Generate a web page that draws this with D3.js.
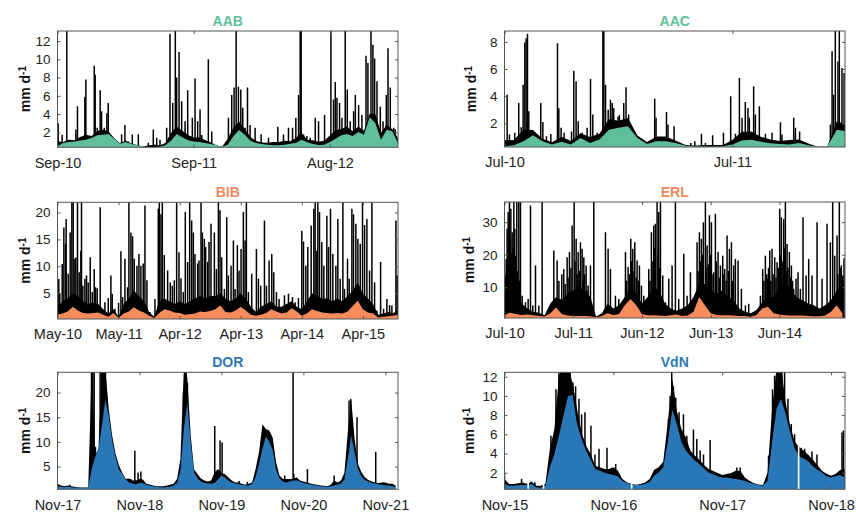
<!DOCTYPE html>
<html><head><meta charset="utf-8">
<script src="https://cdn.jsdelivr.net/npm/d3@7"></script>
<style>body{margin:0;background:#fff}svg{display:block;font-family:"Liberation Sans",Arial,sans-serif}</style>
</head><body><svg id="c" width="856" height="513"></svg>
<script>
// ---- colours ----
const GREEN = "#5fbf9b", ORANGE = "#f68b5c", BLUE = "#2977b6";
const GREEN_T = "#5cc09c", ORANGE_T = "#f0885c", BLUE_T = "#2f7ab5";

// ---- AAB (months since Sep-10, half-month samples) ----
const aabXTicks = [0, 12, 24];
const aabXLabels = ["Sep-10", "Sep-11", "Aug-12"];
const aabYTicks = [2, 4, 6, 8, 10, 12];
const aabFlow = [0.47,0.83,0.94,1.0,1.1,1.2,1.38,1.67,1.74,1.82,1.27,0.76,0.94,0.72,0.58,0.47,0.4,0.4,0.43,0.58,1.09,1.82,1.45,1.12,1.0,0.94,0.83,0.72,0.58,0.43,0.65,1.56,2.26,1.74,1.09,0.83,0.72,0.65,0.58,0.58,0.65,0.76,0.83,1.2,0.9,0.72,0.61,0.65,0.94,1.31,1.67,1.82,1.6,2.04,1.74,3.64,3.02,1.2,2.29,2.11,0.83];
const aabRain = [1.02,0.93,1.2,1.12,1.48,1.74,1.6,2.15,2.29,2.1,1.34,0.8,1.1,0.79,0.62,0.47,0.55,0.66,0.56,0.83,1.92,2.65,2.18,1.71,1.44,1.42,1.16,0.89,0.58,0.43,1.3,2.54,3.15,2.4,1.48,1.05,0.89,0.86,0.95,0.95,1.09,1.02,1.38,1.96,1.19,1.12,0.96,1.09,1.64,2.23,2.37,2.65,2.12,2.63,2.18,4.04,4.0,1.96,2.84,2.33,1.38];
const aabSpikes = [[0.06,3.0],[0.41,1.74],[0.82,13.5],[1.09,1.2],[1.62,2.3],[1.76,4.85],[1.97,1.4],[2.41,5.9],[2.5,7.8],[3.06,1.4],[3.24,9.3],[3.32,8.3],[3.5,2.5],[3.76,6.6],[3.88,4.3],[4.12,2.5],[4.35,4.1],[4.47,5.2],[4.62,1.7],[5.65,1.8],[5.94,2.8],[6.24,1.0],[6.59,1.75],[7.12,1.8],[8.0,0.85],[8.44,2.3],[8.74,1.4],[9.03,1.2],[9.62,2.5],[9.91,12.8],[10.15,5.2],[10.38,13.5],[10.5,8.0],[10.71,10.8],[10.94,5.4],[11.24,3.2],[11.47,6.6],[11.88,3.6],[12.12,7.9],[12.35,3.2],[12.56,4.5],[12.71,1.7],[13.29,10.0],[13.59,2.1],[15.06,3.6],[15.35,6.1],[15.56,6.9],[15.74,13.5],[15.94,7.0],[16.15,6.7],[16.32,4.7],[16.53,2.5],[16.74,6.9],[16.97,2.8],[17.41,2.5],[17.94,1.8],[18.59,1.4],[19.41,2.6],[19.91,1.75],[20.35,2.5],[20.71,2.5],[21.0,3.6],[21.24,6.1],[21.38,13.5],[21.47,13.5],[21.68,1.75],[21.97,1.6],[22.26,1.4],[22.71,3.6],[23.0,3.2],[23.53,3.9],[24.09,13.5],[24.32,5.6],[24.47,7.5],[24.62,5.8],[24.85,5.2],[25.06,3.6],[25.35,13.5],[25.53,6.7],[25.79,3.2],[26.09,4.3],[26.24,6.1],[26.53,5.0],[26.82,3.9],[27.18,10.4],[27.35,9.6],[27.62,13.5],[27.79,11.6],[27.94,10.1],[28.15,7.6],[28.44,4.8],[28.68,3.2],[28.97,6.1],[29.12,11.2],[29.32,6.9],[29.62,2.5],[29.76,2.3]];

// ---- AAC (months since Jul-10) ----
const aacXTicks = [0, 12];
const aacXLabels = ["Jul-10", "Jul-11"];
const aacYTicks = [2, 4, 6, 8];
const aacFlow = [0.31,0.38,0.68,1.12,0.68,0.43,0.63,0.43,0.92,0.55,0.8,1.53,1.66,1.78,0.92,0.48,0.68,0.68,0.55,0.36,0.28,0.28,0.28,0.31,0.43,0.73,0.78,0.63,0.53,0.48,0.43,0.55,0.38,0.26,0.28,1.53,1.41];
const aacRain = [0.74,0.76,1.53,1.5,0.85,0.6,1.01,0.69,1.26,0.98,1.23,2.31,2.18,2.38,1.1,0.62,1.02,1.02,0.72,0.41,0.35,0.39,0.39,0.39,0.77,1.38,1.4,1.01,0.8,0.7,0.77,0.81,0.5,0.26,0.28,2.14,1.93];
const aacSpikes = [[0.14,4.1],[0.26,1.17],[0.54,1.3],[0.75,3.5],[0.88,1.7],[0.98,4.84],[1.07,7.96],[1.14,8.27],[1.21,8.6],[1.28,2.88],[1.46,1.4],[1.63,1.17],[1.91,3.5],[2.02,2.1],[2.21,1.04],[2.44,1.2],[2.79,7.9],[2.86,3.1],[2.98,1.66],[3.14,1.3],[3.53,1.4],[3.65,5.87],[3.77,5.09],[3.88,2.15],[4.09,1.3],[4.35,1.66],[4.53,5.26],[4.65,2.64],[4.88,1.3],[5.18,9.5],[5.23,9.5],[5.32,4.84],[5.46,3.0],[5.58,3.74],[5.67,3.5],[5.75,3.13],[5.98,2.5],[6.05,2.6],[6.19,2.15],[6.28,3.5],[6.4,4.65],[6.54,2.64],[7.91,3.8],[7.98,2.4],[8.53,2.83],[8.61,1.9],[8.93,1.78],[9.81,0.55],[10.02,0.68],[10.37,1.22],[10.58,0.55],[10.96,1.12],[11.53,1.3],[11.91,3.99],[12.16,1.22],[12.37,5.33],[12.51,2.4],[12.68,3.57],[12.82,3.13],[12.89,2.4],[13.12,4.72],[13.21,2.64],[13.42,3.25],[13.74,1.22],[14.09,1.3],[14.53,2.07],[14.61,1.17],[15.23,2.4],[15.32,1.66],[15.54,1.4],[17.16,1.9],[17.25,7.3],[17.33,4.1],[17.42,9.5],[17.56,6.56],[17.63,9.5],[17.77,6.07],[17.88,5.7]];

// ---- BIB (months since May-10, monthly samples) ----
const bibXTicks = [0, 12, 24, 36, 48, 60];
const bibXLabels = ["May-10", "May-11", "Apr-12", "Apr-13", "Apr-14", "Apr-15"];
const bibYTicks = [5, 10, 15, 20];
const bibFlow = [1.0,1.2,1.6,2.5,1.8,1.3,1.2,1.3,1.4,1.0,0.6,1.3,0.4,1.2,1.6,2.4,1.8,1.4,0.8,0.4,1.3,2.0,1.8,1.4,1.3,1.0,1.1,1.2,1.6,1.5,1.7,2.0,2.7,1.5,1.4,1.8,2.5,1.8,1.0,0.8,1.0,1.3,2.0,1.6,1.2,1.4,2.2,1.6,0.8,1.2,2.0,1.7,1.4,1.3,1.2,1.3,1.2,1.6,2.6,3.6,2.0,1.4,1.2,0.5,0.6,0.7,0.8,1.0];
const bibRain = [2.5,3.5,4.0,5.0,4.5,3.5,3.0,3.2,3.0,2.0,1.2,2.0,0.6,3.0,4.0,5.5,4.5,3.5,1.5,0.6,3.5,4.0,3.5,3.0,3.5,3.0,3.5,4.0,4.5,4.0,4.5,4.5,5.0,4.0,3.5,4.0,5.0,4.0,2.5,1.5,2.5,3.0,3.5,2.5,2.5,3.0,3.5,2.5,2.0,3.5,5.0,4.5,4.0,4.0,3.5,4.0,3.5,4.5,5.5,7.0,5.0,4.0,3.0,1.0,1.2,1.5,1.3,2.0];
const bibSpikes = [[0.26,7.66],[0.46,5.0],[0.92,10.45],[1.25,17.2],[1.57,14.2],[1.70,18.8],[2.10,8.6],[2.49,16.3],[2.82,22.5],[3.08,22.5],[3.41,11.4],[3.61,11.7],[3.93,22.5],[4.26,8.9],[4.59,12.9],[4.72,22.5],[4.98,6.4],[5.38,7.7],[5.70,8.3],[6.03,7.0],[6.43,11.7],[6.82,5.2],[7.21,9.5],[7.48,6.1],[7.80,5.9],[8.39,21.0],[9.31,3.3],[9.97,4.1],[10.49,8.3],[10.75,4.9],[11.28,2.1],[12.0,3.2],[12.46,12.8],[12.79,4.3],[13.25,11.4],[13.77,6.1],[14.03,22.5],[14.43,16.3],[14.75,15.6],[15.08,11.4],[15.61,10.1],[16.0,12.3],[16.39,10.1],[16.85,10.5],[17.18,21.3],[17.57,7.4],[18.16,1.5],[19.15,3.9],[19.8,20.7],[20.0,22.5],[20.33,19.7],[20.59,22.5],[20.98,12.1],[21.64,9.2],[22.16,7.0],[22.56,6.4],[22.95,7.4],[23.41,22.5],[23.87,12.6],[24.26,7.8],[24.72,5.2],[25.11,20.1],[25.57,10.8],[25.97,22.5],[26.36,18.5],[26.69,16.3],[27.02,12.3],[27.54,10.5],[27.8,11.1],[28.2,22.5],[28.46,16.3],[28.85,15.1],[29.11,13.6],[29.51,10.8],[29.77,14.5],[30.16,17.9],[30.82,16.3],[31.21,9.5],[31.61,22.5],[31.93,20.4],[32.26,11.7],[32.79,5.8],[33.25,19.1],[33.57,8.3],[34.1,10.1],[34.56,14.8],[34.89,5.8],[35.34,13.9],[35.67,9.2],[36.07,13.2],[36.52,20.1],[36.85,14.8],[37.11,22.5],[37.51,5.2],[38.16,8.6],[39.08,13.2],[39.48,7.7],[39.93,6.4],[40.66,18.5],[41.05,6.4],[41.57,11.1],[42.1,12.3],[42.49,8.9],[43.02,5.2],[43.54,3.9],[44.59,4.6],[45.38,4.9],[46.16,4.3],[46.69,3.3],[47.34,4.1],[48.0,16.6],[48.33,14.6],[48.79,10.1],[49.18,13.6],[49.84,17.6],[50.36,20.7],[50.62,22.5],[50.95,12.9],[51.15,22.5],[51.48,20.1],[51.93,14.5],[52.33,10.1],[52.92,19.4],[53.25,13.6],[53.64,20.7],[54.1,12.3],[54.69,10.1],[55.08,18.8],[55.54,7.7],[56.07,22.5],[56.39,5.8],[56.98,11.4],[57.31,7.7],[57.84,20.7],[58.16,19.7],[58.62,17.9],[59.02,15.1],[59.48,14.2],[59.93,22.5],[60.33,17.7],[60.79,18.8],[61.31,9.2],[61.77,22.5],[62.3,7.0],[62.75,1.8],[63.48,10.8],[64.07,2.1],[64.72,3.9],[65.25,2.8],[65.7,2.7],[66.49,18.5],[66.75,8.3]];

// ---- ERL (months since Jul-10, monthly samples) ----
const erlXTicks = [0, 12, 24, 36, 48];
const erlXLabels = ["Jul-10", "Jul-11", "Jun-12", "Jun-13", "Jun-14"];
const erlYTicks = [10, 20, 30];
const erlFlow = [1.5,2.2,1.8,1.5,1.6,1.4,1.2,1.0,2.0,3.8,1.8,1.3,1.2,1.2,1.2,1.1,0.8,1.2,2.0,1.5,1.8,4.5,6.4,4.5,1.8,1.4,1.4,1.3,1.2,1.4,1.6,1.2,1.3,2.5,7.0,4.5,2.0,1.5,1.4,1.4,1.3,1.2,1.2,0.9,1.5,3.5,4.0,2.0,1.6,1.4,1.3,1.3,1.3,1.2,1.1,1.1,1.3,2.5,4.5,2.0];
const erlRain = [12,22,15,5,3.5,2.5,2.2,1.4,5,7,6,8,9,10,9,7,1.0,2.0,5,3.5,4.5,7,10,8,5,7,10,9,5,3.5,2.8,3.5,4.5,7,11,11,9,8,9,7,6,3.5,2.5,2.0,3.0,5.5,7,7,10,12,9,7,6,5,4.5,3.5,4.5,6,9,11];
const erlSpikes = [[0.29,18.7],[0.45,28],[0.64,33.1],[0.75,30],[0.87,37],[1.0,25],[1.11,34.1],[1.34,26.9],[1.5,22],[1.63,37],[1.8,28],[1.92,19.7],[2.15,37],[2.3,15],[2.5,37],[2.65,12],[2.79,37],[3.08,7.4],[3.66,5.4],[4.13,6.4],[4.54,35.1],[4.94,4.4],[5.41,16.7],[5.99,4.4],[6.57,37],[8.61,21.3],[9.19,18.2],[9.5,12],[9.77,6.4],[10.0,14],[10.35,15.6],[10.6,11],[10.94,19.2],[11.1,13],[11.34,20.8],[11.6,16],[11.81,29.0],[12.16,37],[12.3,18],[12.51,24.9],[12.7,14],[12.86,20.8],[13.1,15],[13.26,23.8],[13.55,21.8],[13.7,12],[13.85,19.2],[14.0,14],[14.25,16.7],[14.4,9],[14.6,10.5],[15.01,16.7],[15.59,37],[17.63,26.9],[18.09,21.8],[18.5,15.6],[19.37,7.4],[19.95,6.4],[21.12,20.8],[21.3,12],[21.58,16.2],[21.8,14],[22.05,24.9],[22.2,18],[22.4,21.8],[22.6,15],[22.75,23.8],[23.0,13],[23.15,18.2],[23.4,12],[23.56,16.7],[23.91,10.5],[24.32,7.4],[25.19,15.6],[25.4,12],[25.65,26.9],[25.9,18],[26.06,29.0],[26.2,22],[26.35,29.5],[26.64,37],[26.8,20],[26.93,33.1],[27.1,16],[27.23,37],[27.63,13.6],[28.1,5.4],[28.68,12.6],[29.26,16.7],[29.84,37],[30.42,6.4],[31.3,20.3],[31.88,7.4],[32.46,14.6],[33.62,23.8],[33.8,15],[34.03,26.9],[34.2,18],[34.38,24.9],[34.6,20],[34.73,30.0],[35.08,37],[35.2,16],[35.37,22.8],[35.6,17],[35.78,32.1],[36.0,20],[36.13,30.0],[36.4,14],[36.53,14.6],[36.82,32.6],[37.0,18],[37.29,20.8],[37.5,13],[37.7,16.7],[38.1,19.7],[38.3,14],[38.45,15.6],[38.7,12],[38.86,25.9],[39.1,15],[39.27,21.8],[39.62,23.8],[39.8,12],[40.02,16.7],[40.31,18.7],[40.78,18.2],[41.36,9.5],[42.06,4.4],[42.64,4.9],[44.68,7.4],[45.08,15.6],[45.3,12],[45.55,19.7],[45.8,14],[45.96,12.6],[46.1,16],[46.31,21.3],[46.5,12],[46.71,21.8],[46.9,14],[47.18,19.2],[47.4,13],[47.59,17.7],[47.8,16],[48.05,34.1],[48.2,20],[48.34,31.5],[48.6,18],[48.75,31.0],[48.9,22],[49.04,37],[49.2,15],[49.33,23.3],[49.5,16],[49.74,20.8],[49.9,13],[50.09,16.7],[50.3,12],[50.49,9.5],[50.9,12.6],[51.25,14.6],[51.66,9.5],[52.12,31.5],[52.65,13.6],[53.11,18.7],[53.69,13.6],[54.57,30.0],[55.44,12.6],[56.31,29.5],[56.89,23.8],[57.3,37],[57.65,19.7],[58.06,25.9],[58.2,14],[58.46,37],[58.6,16],[58.81,16.7],[59.05,13.6],[59.1,12],[59.28,18.9]];

// ---- DOR (months since Nov-17, half-month samples) ----
const dorXTicks = [0, 12, 24, 36, 48];
const dorXLabels = ["Nov-17", "Nov-18", "Nov-19", "Nov-20", "Nov-21"];
const dorYTicks = [5, 10, 15, 20];
const dorFlow = [1.0,0.9,0.8,0.9,0.8,0.75,0.75,0.7,0.7,0.7,4.5,6.9,8.6,13.3,18.6,15.3,10.3,6.9,4.4,3.5,2.4,1.8,1.5,1.4,1.7,1.7,1.3,1.15,1.0,0.9,0.8,0.8,0.8,0.95,1.15,1.7,4.2,12.6,18.0,9.9,3.85,2.6,1.96,1.7,1.55,1.5,1.7,2.4,3.2,2.84,2.2,1.8,1.6,1.4,1.3,1.15,1.15,1.5,2.84,5.5,8.6,11.1,10.1,8.4,4.4,2.6,2.0,1.8,2.0,2.2,2.2,2.0,1.7,1.5,1.35,1.2,1.15,1.0,0.95,0.9,1.0,1.15,1.35,1.5,2.4,6.55,11.3,7.9,4.5,3.0,2.3,2.0,1.7,1.55,1.4,1.3,1.2,1.15,1.0,0.9];
const dorRain = [1.5,1.15,1.0,1.15,1.0,0.9,0.8,0.75,0.75,0.75,25,7.2,8.6,25,25,16.7,11.3,7.6,5.2,3.7,2.5,2.6,2.2,2.2,2.5,2.4,1.5,1.35,1.15,1.0,1.0,1.0,1.15,1.3,1.5,2.5,6.55,25,23,11.3,4.4,3.5,2.6,2.2,2.0,2.2,3.85,4.5,3.7,3.5,2.84,2.2,1.8,1.8,1.5,1.3,1.5,1.8,4.5,7.9,13.6,12.6,12.3,10.9,5.9,3.2,2.5,2.5,2.5,2.5,2.84,2.2,2.0,1.8,1.6,1.4,1.3,1.15,1.1,1.0,1.3,2.2,1.8,2.2,3.7,11.96,18.6,10.6,5.5,3.85,2.84,2.3,2.0,1.8,1.7,1.8,1.8,1.5,1.5,1.15];
const dorSpikes = [[1.8,1.3],[4.98,25],[5.17,25],[5.37,25],[5.56,9.0],[6.24,25],[6.44,25],[6.63,25],[6.83,25],[7.02,25],[7.27,19],[8.0,8.0],[10.73,2.5],[11.32,8.2],[11.8,3.8],[12.2,4.0],[18.44,20],[18.63,25],[18.83,25],[19.02,22],[23.02,13.2],[23.8,10.3],[24.1,9.9],[26.6,2.1],[27.8,1.9],[33.27,3.2],[34.49,25],[34.6,3.5],[36.59,4.5],[40.5,3.2],[42.68,18.4],[42.93,18.7],[43.85,15.0],[46.59,8.0],[47.66,1.8]];

// ---- VdN (months since Nov-15, half-month samples) ----
const vdnXTicks = [0, 12, 24, 36];
const vdnXLabels = ["Nov-15", "Nov-16", "Nov-17", "Nov-18"];
const vdnYTicks = [2, 4, 6, 8, 10, 12];
const vdnFlow = [0.82,0.65,0.65,0.68,0.72,0.72,0.82,0.47,0.47,0.58,2.56,3.94,5.85,7.94,10.0,10.1,7.07,5.51,4.29,3.35,2.38,2.21,2.03,1.86,1.76,1.62,1.13,0.89,0.78,0.72,0.72,0.82,1.06,1.69,2.03,2.56,5.16,8.56,7.07,5.23,4.29,3.77,3.25,2.87,2.45,2.03,1.83,1.62,1.51,1.51,1.41,1.34,1.27,1.13,0.99,0.82,0.72,0.65,1.17,5.16,8.7,9.67,8.11,6.2,4.53,3.7,3.49,3.18,2.66,2.31,2.03,1.62,1.51,1.62,1.76,1.51];
const vdnRain = [1.34,0.82,0.82,0.89,0.99,0.82,1.06,0.65,0.65,0.82,4.47,6.55,12.1,13,13,11.4,8.63,6.2,4.81,3.94,2.73,2.56,2.38,2.38,2.56,2.21,1.34,0.99,0.82,0.75,0.82,0.99,1.34,2.31,2.56,3.15,7.24,11.76,8.46,6.55,5.68,4.29,3.77,3.35,2.8,2.38,2.17,1.97,1.76,1.86,1.97,2.21,2.21,1.51,1.17,0.89,0.78,0.72,2.03,8.63,13,13,9.3,6.9,5.23,4.64,4.29,3.84,3.35,2.8,2.21,1.9,1.69,1.86,2.28,2.38];
const vdnSpikes = [[0,2.0],[1.88,1.34],[2.91,1.06],[3.35,1.0],[5.12,5.85],[5.37,4.1],[5.67,10.7],[6.0,13],[6.22,13],[6.51,13],[6.85,11.8],[7.03,13],[7.25,13],[7.55,11.4],[7.84,11.0],[8.21,9.7],[8.5,8.1],[8.87,8.3],[9.53,6.9],[9.97,3.9],[10.42,4.5],[11.3,4.6],[12.26,2.9],[18.07,7.6],[18.26,10.0],[18.44,13],[18.62,11.0],[18.88,9.8],[19.25,8.3],[19.73,8.1],[20.1,5.85],[20.83,6.5],[21.2,5.5],[21.57,4.3],[21.94,3.9],[22.67,5.4],[25.62,2.55],[25.98,2.55],[29.11,3.8],[29.55,10.7],[29.78,12.1],[30.03,13],[30.29,11.4],[30.58,13],[30.88,13],[31.25,9.7],[31.62,7.07],[31.98,6.0],[32.72,4.6],[33.09,4.5],[33.46,3.84],[33.9,4.2],[34.45,3.9],[37.21,6.2],[37.36,6.4]];
const vdnGaps = [2.61, 4.31, 14.02, 32.43];

// ---- layout ----
const LC = [57.5, 398], RC = [504.5, 845];
const panels = [
  {title:"AAB", tc:GREEN_T, fc:GREEN, xs:LC, ys:[31,147.3], xMax:30, yDom:[0.36,13.1], step:0.5, flow:aabFlow, rain:aabRain, spikes:aabSpikes, gaps:[], xt:aabXTicks, xl:aabXLabels, yt:aabYTicks, labX:30},
  {title:"AAC", tc:GREEN_T, fc:GREEN, xs:RC, ys:[31,147], xMax:17.93, yDom:[0.25,8.8], step:0.5, flow:aacFlow, rain:aacRain, spikes:aacSpikes, gaps:[], xt:aacXTicks, xl:aacXLabels, yt:aacYTicks, labX:476},
  {title:"BIB", tc:ORANGE_T, fc:ORANGE, xs:LC, ys:[202.3,319], xMax:66.9, yDom:[0.2,21.9], step:1, flow:bibFlow, rain:bibRain, spikes:bibSpikes, gaps:[], xt:bibXTicks, xl:bibXLabels, yt:bibYTicks, labX:30},
  {title:"ERL", tc:ORANGE_T, fc:ORANGE, xs:RC, ys:[202,318], xMax:59.45, yDom:[0.55,36.2], step:1, flow:erlFlow, rain:erlRain, spikes:erlSpikes, gaps:[], xt:erlXTicks, xl:erlXLabels, yt:erlYTicks, labX:474},
  {title:"DOR", tc:BLUE_T, fc:BLUE, xs:LC, ys:[372.3,489.3], xMax:49.85, yDom:[0.4,24.1], step:0.5, flow:dorFlow, rain:dorRain, spikes:dorSpikes, gaps:[], xt:dorXTicks, xl:dorXLabels, yt:dorYTicks, labX:30},
  {title:"VdN", tc:BLUE_T, fc:BLUE, xs:RC, ys:[372.3,489.3], xMax:37.54, yDom:[0.27,12.46], step:0.5, flow:vdnFlow, rain:vdnRain, spikes:vdnSpikes, gaps:vdnGaps, xt:vdnXTicks, xl:vdnXLabels, yt:vdnYTicks, labX:474}
];

const svg = d3.select("#c");
const defs = svg.append("defs");
const AX = "#555";

panels.forEach((p, i) => {
  const [L, R] = p.xs, [T, B] = p.ys;
  const x = d3.scaleLinear().domain([0, p.xMax]).range([L, R]);
  const y = d3.scaleLinear().domain(p.yDom).range([B, T]);
  defs.append("clipPath").attr("id", "cl" + i).append("rect")
    .attr("x", L).attr("y", T).attr("width", R - L).attr("height", B - T);
  const g = svg.append("g");
  const pg = g.append("g").attr("clip-path", `url(#cl${i})`);
  const area = d3.area().x((d, k) => x(k * p.step)).y0(B).y1(d => y(Math.max(d, p.yDom[0])));

  pg.append("path").datum(p.rain).attr("d", area).attr("fill", "#000");
  pg.append("g").selectAll("line").data(p.spikes).join("line")
    .attr("x1", d => x(d[0])).attr("x2", d => x(d[0]))
    .attr("y1", B).attr("y2", d => y(d[1]))
    .attr("stroke", "#000").attr("stroke-width", 1.5);
  pg.append("path").datum(p.flow).attr("d", area).attr("fill", p.fc);
  pg.append("g").selectAll("line").data(p.gaps).join("line")
    .attr("x1", d => x(d)).attr("x2", d => x(d)).attr("y1", T).attr("y2", B)
    .attr("stroke", "#fff").attr("stroke-width", 1.6);

  const styleAxis = sel => {
    sel.select(".domain").remove();
    sel.selectAll(".tick line").attr("stroke", AX);
    sel.selectAll("text").attr("fill", "#222");
  };
  g.append("g").attr("transform", `translate(0,${B})`)
    .call(d3.axisBottom(x).tickValues(p.xt).tickSize(-3).tickPadding(10).tickFormat((d, k) => p.xl[k]))
    .call(styleAxis).selectAll("text").style("font-size", "14.5px").style("font-family", '"Liberation Sans",Arial,sans-serif');
  g.append("g").attr("transform", `translate(0,${T})`)
    .call(d3.axisTop(x).tickValues(p.xt).tickSize(-3).tickFormat(""))
    .call(styleAxis);
  g.append("g").attr("transform", `translate(${L},0)`)
    .call(d3.axisLeft(y).tickValues(p.yt).tickSize(-3).tickPadding(7).tickFormat(d3.format("d")))
    .call(styleAxis).selectAll("text").style("font-size", "13.5px").style("font-family", '"Liberation Sans",Arial,sans-serif');
  g.append("g").attr("transform", `translate(${R},0)`)
    .call(d3.axisRight(y).tickValues(p.yt).tickSize(-3).tickFormat(""))
    .call(styleAxis);
  g.append("rect").attr("x", L).attr("y", T).attr("width", R - L).attr("height", B - T)
    .attr("fill", "none").attr("stroke", AX).attr("stroke-width", 1);

  g.append("text").attr("x", (L + R) / 2).attr("y", T - 5).attr("text-anchor", "middle")
    .attr("font-weight", "bold").attr("font-size", "14px").attr("fill", p.tc).text(p.title);

  const yl = g.append("text").attr("transform", `translate(${p.labX},${(T + B) / 2}) rotate(-90)`)
    .attr("text-anchor", "middle").attr("font-weight", "bold").attr("font-size", "14px").attr("fill", "#111");
  yl.append("tspan").text("mm d");
  yl.append("tspan").attr("dy", "-0.45em").attr("font-size", "10px").text("-1");
});
</script></body></html>
